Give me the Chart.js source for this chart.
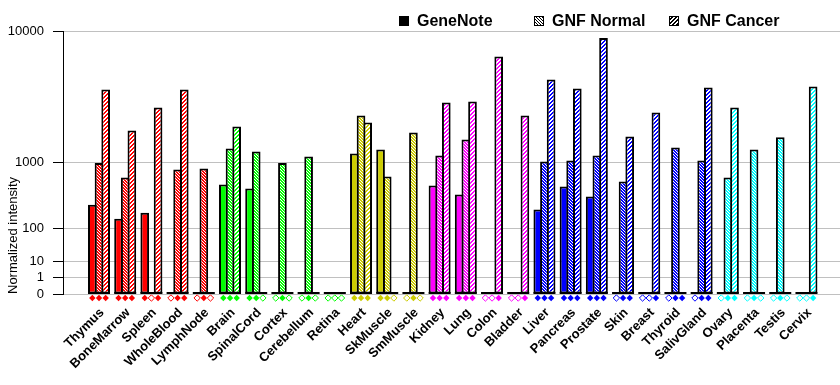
<!DOCTYPE html>
<html>
<head>
<meta charset="utf-8">
<title>Normalized intensity by tissue</title>
<script src="https://cdn.jsdelivr.net/npm/chart.js@4.4.0/dist/chart.umd.min.js"></script>
<style>
  html, body { margin: 0; padding: 0; background: #fff; }
  #wrap { width: 840px; height: 385px; }
</style>
</head>
<body>
<div id="wrap"><canvas id="chart" width="840" height="385"></canvas></div>
<script>
// tissues along the x axis
var tissues = ['Thymus', 'BoneMarrow', 'Spleen', 'WholeBlood', 'LymphNode',
               'Brain', 'SpinalCord', 'Cortex', 'Cerebellum', 'Retina',
               'Heart', 'SkMuscle', 'SmMuscle',
               'Kidney', 'Lung', 'Colon', 'Bladder',
               'Liver', 'Pancreas', 'Prostate', 'Skin', 'Breast', 'Thyroid', 'SalivGland',
               'Ovary', 'Placenta', 'Testis', 'Cervix'];

// normalized intensity per tissue (0 = no bar)
var geneNote  = [275, 157, 203, 0, 0, 543, 480, 0, 0, 0, 1245, 1366, 0, 527, 395, 0, 0,
                 229, 511, 369, 0, 0, 0, 0, 0, 0, 0, 0];
var gnfNormal = [985, 668, 0, 832, 855, 1400, 1304, 985, 1158, 0, 2760, 687, 1978, 1186, 1707, 0, 0,
                 1024, 1050, 1186, 594, 0, 1429, 1050, 668, 1366, 1795, 0];
var gnfCancer = [4335, 2061, 3190, 4335, 0, 2234, 0, 0, 0, 0, 2415, 0, 0, 3483, 3548, 7130, 2760,
                 5080, 4406, 9140, 1820, 2917, 0, 4477, 3190, 0, 0, 4550];

// present (1) / absent (0) calls, the diamonds under the bars
var geneNoteCall  = [1,1,1,0,0, 1,1,0,0,0, 1,1,0, 1,1,0,0, 1,1,1,0,0,0,0, 0,0,0,0];
var gnfNormalCall = [1,1,0,1,1, 1,1,1,1,0, 1,1,1, 1,1,0,0, 1,1,1,1,0,1,1, 1,1,1,0];
var gnfCancerCall = [1,1,1,1,0, 1,0,0,0,0, 1,0,0, 1,1,1,1, 1,1,1,1,1,1,1, 1,0,0,1];

var yTickValues = [0, 1, 10, 100, 1000, 10000];
var yTickLabels = ['0', '1', '10', '100', '1000', '10000'];

var tissueColors = ['#ff0000', '#ff0000', '#ff0000', '#ff0000', '#ff0000',
                    '#00ff00', '#00ff00', '#00ff00', '#00ff00', '#00ff00',
                    '#cccc00', '#cccc00', '#cccc00',
                    '#ff00ff', '#ff00ff', '#ff00ff', '#ff00ff',
                    '#0000ff', '#0000ff', '#0000ff', '#0000ff', '#0000ff', '#0000ff', '#0000ff',
                    '#00ffff', '#00ffff', '#00ffff', '#00ffff'];

// each decade gets twice the height of the one below it
function yt(v) { return v > 0 ? Math.pow(2, Math.log10(v)) : 0; }

// hatch tiles: 'back' = "\" thin white lines on colour, 'fwd' = "/" colour stripes on white
var patternCache = {};
function hatch(color, kind) {
    var key = color + kind;
    if (patternCache[key]) return patternCache[key];
    var n = kind === 'back' ? 3 : 4;
    var c = document.createElement('canvas');
    c.width = n; c.height = n;
    var g = c.getContext('2d');
    for (var x = 0; x < n; x++) {
        for (var y = 0; y < n; y++) {
            var on;
            if (kind === 'back') on = ((x - y + n) % n) !== 0;
            else on = ((x + y) % n) < 2;
            g.fillStyle = on ? color : '#ffffff';
            g.fillRect(x, y, 1, 1);
        }
    }
    patternCache[key] = g.createPattern(c, 'repeat');
    return patternCache[key];
}

function points(arr) {
    return arr.map(function (v, i) { return {x: i, y: yt(v)}; });
}

var calls = [geneNoteCall, gnfNormalCall, gnfCancerCall];

var groupDecor = {
    id: 'groupDecor',
    afterDatasetsDraw: function (chart) {
        var ctx = chart.ctx;
        var y0 = chart.scales.y.getPixelForValue(0);
        var metas = [0, 1, 2].map(function (d) { return chart.getDatasetMeta(d); });
        ctx.save();
        tissues.forEach(function (name, i) {
            var a = metas[0].data[i], b = metas[2].data[i];
            var left = a.x - a.width / 2, right = b.x + b.width / 2;
            ctx.fillStyle = '#000';
            ctx.fillRect(left, y0 - 2, right - left, 2);
            calls.forEach(function (arr, d) {
                var el = metas[d].data[i];
                var cx = el.x, cy = y0 + 4, r = 3.2;
                ctx.beginPath();
                ctx.moveTo(cx, cy - r);
                ctx.lineTo(cx + r, cy);
                ctx.lineTo(cx, cy + r);
                ctx.lineTo(cx - r, cy);
                ctx.closePath();
                if (arr[i]) {
                    ctx.fillStyle = tissueColors[i];
                    ctx.fill();
                } else {
                    ctx.fillStyle = '#fff';
                    ctx.fill();
                    ctx.lineWidth = 1;
                    ctx.strokeStyle = tissueColors[i];
                    ctx.stroke();
                }
            });
        });
        ctx.restore();
    }
};

// legend across the top right
var legendNames = ['GeneNote', 'GNF Normal', 'GNF Cancer'];
var topLegend = {
    id: 'topLegend',
    afterDraw: function (chart) {
        var ctx = chart.ctx;
        var boxX = [399, 534, 669];
        var fills = ['#000', null, hatch('#000000', 'fwd')];
        ctx.save();
        // the "\" legend icon uses black lines on white
        var c = document.createElement('canvas'); c.width = 3; c.height = 3;
        var g = c.getContext('2d');
        g.fillStyle = '#fff'; g.fillRect(0, 0, 3, 3);
        g.fillStyle = '#000';
        for (var k = 0; k < 3; k++) g.fillRect(k, k, 1, 1);
        fills[1] = ctx.createPattern(c, 'repeat');
        legendNames.forEach(function (name, i) {
            ctx.fillStyle = '#000';
            ctx.fillRect(boxX[i], 16, 10, 10);
            ctx.fillStyle = fills[i];
            if (i > 0) ctx.fillRect(boxX[i] + 1, 17, 8, 8);
            ctx.fillStyle = '#000';
            ctx.font = 'bold 16px "Liberation Sans", Arial, sans-serif';
            ctx.textBaseline = 'middle';
            ctx.textAlign = 'left';
            ctx.fillText(name, boxX[i] + 18, 21.5);
        });
        ctx.restore();
    }
};

var ctx = document.getElementById('chart').getContext('2d');
var chart = new Chart(ctx, {
    type: 'bar',
    data: {
        datasets: [{
            label: 'GeneNote',
            data: points(geneNote),
            backgroundColor: tissueColors,
            borderColor: '#000',
            borderWidth: 2,
            borderSkipped: false
        }, {
            label: 'GNF Normal',
            data: points(gnfNormal),
            backgroundColor: tissueColors.map(function (c) { return hatch(c, 'back'); }),
            borderColor: '#000',
            borderWidth: 2,
            borderSkipped: false
        }, {
            label: 'GNF Cancer',
            data: points(gnfCancer),
            backgroundColor: tissueColors.map(function (c) { return hatch(c, 'fwd'); }),
            borderColor: '#000',
            borderWidth: 2,
            borderSkipped: false
        }]
    },
    options: {
        responsive: false,
        devicePixelRatio: 1,
        animation: false,
        categoryPercentage: 0.763,
        barPercentage: 1.3,
        layout: { padding: { top: 31, right: 0, left: 0, bottom: 0 } },
        plugins: {
            legend: { display: false },
            tooltip: { enabled: false }
        },
        scales: {
            x: {
                type: 'linear',
                min: -1.374,
                max: 28.28,
                offset: false,
                grid: { display: false },
                border: { display: false },
                afterBuildTicks: function (scale) {
                    scale.ticks = tissues.map(function (t, i) { return {value: i}; });
                },
                afterFit: function (scale) {
                    scale.height = 91;
                    scale.paddingLeft = 0;
                    scale.paddingRight = 0;
                },
                ticks: {
                    autoSkip: false,
                    minRotation: 45,
                    maxRotation: 45,
                    padding: 3,
                    labelOffset: 3,
                    color: '#000',
                    font: { family: '"Liberation Sans", Arial, sans-serif', size: 13, weight: 'bold' },
                    callback: function (v) { return tissues[v]; }
                }
            },
            y: {
                min: 0,
                max: 16,
                afterBuildTicks: function (scale) {
                    scale.ticks = yTickValues.map(function (v) { return {value: yt(v)}; });
                },
                afterFit: function (scale) { scale.width = 63; },
                grid: { color: '#c0c0c0', tickColor: '#000', tickLength: 10 },
                border: { color: '#000', width: 1 },
                ticks: {
                    padding: 9,
                    color: '#000',
                    font: { family: '"Liberation Sans", Arial, sans-serif', size: 13 },
                    callback: function (v, i) { return yTickLabels[i]; }
                },
                title: {
                    display: true,
                    text: 'Normalized intensity',
                    align: 'start',
                    color: '#000',
                    padding: { top: 6, bottom: 0 },
                    font: { family: '"Liberation Sans", Arial, sans-serif', size: 13 }
                }
            }
        }
    },
    plugins: [groupDecor, topLegend]
});
</script>
</body>
</html>
